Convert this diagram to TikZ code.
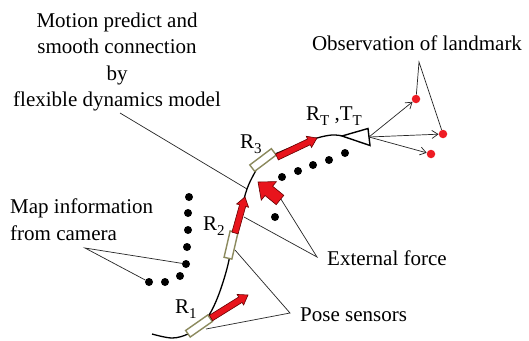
\documentclass[tikz,border=0pt]{standalone}
\usepackage{fontspec}
\setmainfont{Liberation Serif}
\usetikzlibrary{arrows.meta}
\definecolor{arrred}{HTML}{E8141C}
\definecolor{sensorc}{HTML}{8C8A5E}
\definecolor{dotred}{HTML}{EE1C24}
\newcommand\blockarr[7]{%
  \pgfmathsetmacro\baL{#4-#7}%
  \filldraw[redarr,shift={(#1,#2)},rotate=#3] (0pt,#5pt) -- (\baL pt,#5pt) -- (\baL pt,#6pt) -- (#4pt,0pt) -- (\baL pt,-#6pt) -- (\baL pt,-#5pt) -- (0pt,-#5pt) -- cycle;}
\newcommand\lowsub[1]{\raisebox{-0.28em}{\fontsize{15}{15}\selectfont #1}}
\tikzset{
  txt/.style={font=\fontsize{21}{26.5}\selectfont, inner sep=0pt, text=black},
  lbl/.style={draw=black!85, line width=0.7pt},
  curve/.style={draw=black, line width=1.3pt},
  sensor/.style={draw=sensorc, line width=1.4pt, minimum width=27pt, minimum height=8pt, inner sep=0pt, fill=white},
  redarr/.style={fill=arrred, draw=black!60!red, line width=0.6pt},
  bdot/.style={circle, fill=black, minimum size=8pt, inner sep=0pt},
  rdot/.style={circle, fill=dotred, minimum size=8.5pt, inner sep=0pt},
  lmarrow/.style={lbl, -{Straight Barb[length=6pt,width=8pt]}},
}
\begin{document}
\begin{tikzpicture}[x=1pt,y=-1pt]
\useasboundingbox (0,0) rectangle (529,340);
\fill[white] (0,0) rectangle (529,340);

% texts
\node[txt, align=center, anchor=north] (motion) at (117,12.4) {Motion predict and\\smooth connection\\by\\flexible dynamics model};
\node[txt, align=left, anchor=north west] (map) at (10,198.7) {Map information\\from camera};
\node[txt, anchor=base] (obs) at (417,50.7) {Observation of landmark};
\node[txt, anchor=base west] (rt) at (306,120) {R\lowsub{T} ,T\lowsub{T}};
\node[txt, anchor=base west] (ext) at (327,265.7) {External force};
\node[txt, anchor=base west] (pose) at (300,321) {Pose sensors};
\node[txt, anchor=base west] (r1) at (175,313) {R\lowsub{1}};
\node[txt, anchor=base west] (r2) at (203,230) {R\lowsub{2}};
\node[txt, anchor=base west] (r3) at (240,148) {R\lowsub{3}};

% map dots
\node[bdot] (m1) at (189,197) {};
\node[bdot] (m2) at (188,213) {};
\node[bdot] (m3) at (188,230) {};
\node[bdot] (m4) at (187,247) {};
\node[bdot] (m5) at (186,264) {};
\node[bdot] (m6) at (180,276) {};
\node[bdot] (m7) at (165,282) {};
\node[bdot] (m8) at (149,282) {};

% upper dots
\node[bdot] (u1) at (345,153) {};
\node[bdot] (u2) at (329,160) {};
\node[bdot] (u3) at (313,165) {};
\node[bdot] (u4) at (298,171) {};
\node[bdot] (u5) at (282,177) {};
\node[bdot] (u6) at (275,217) {};

% coordinates for connectors
\coordinate (mapapex) at (85,248);
\coordinate (motionstart) at (120,113);
\coordinate (motionend) at (247,189);
\coordinate (extapex) at (317,257);
\coordinate (extA) at (244,217);
\coordinate (extB) at (279,196);
\coordinate (poseapex) at (290,313);
\coordinate (poseA) at (235,250);
\coordinate (poseB) at (206,329);
\coordinate (obsapex) at (419,62);
\coordinate (cam) at (369,137);

% label lines
\draw[lbl] (m5) -- (mapapex) -- (m8);
\draw[lbl] (motionstart) -- (motionend);
\draw[lbl] (extA) -- (extapex) -- (extB);
\draw[lbl] (poseA) -- (poseapex) -- (poseB);

% trajectory
\draw[curve] plot[smooth, tension=0.6] coordinates {(152,334) (172,338) (188,334) (199,326) (209,315) (217,299) (224,279) (229,260) (231,245) (235,230) (241,210) (247,189) (254,174) (263,160) (280,152) (300,144) (317,138) (332,135) (343,136)};

% camera triangle
\draw[line width=1.4pt, fill=white, line join=miter] (342,136) -- (368,128.5) -- (370,145.5) -- cycle;

% landmarks
\node[rdot] (l1) at (416,99) {};
\node[rdot] (l2) at (443,134) {};
\node[rdot] (l3) at (431,154) {};
\draw[lmarrow] (cam) -- (l1);
\draw[lmarrow] (cam) -- (l2);
\draw[lmarrow] (cam) -- (l3);
\draw[lbl] (l1) -- (obsapex) -- (l2);

% sensors
\node[sensor, rotate=35] (s1) at (199,326) {};
\node[sensor, rotate=77] (s2) at (231,245) {};
\node[sensor, rotate=37] (s3) at (263,160) {};

% red block arrows
\blockarr{211}{318}{31.9}{43.6}{3.2}{6.2}{9}
\blockarr{235}{233}{74.5}{37.4}{3.2}{6.2}{9}
\blockarr{277}{157}{25.4}{44.3}{3.2}{6.2}{9}
\blockarr{280}{200}{140.7}{28.4}{6}{12}{14}
\end{tikzpicture}
\end{document}
